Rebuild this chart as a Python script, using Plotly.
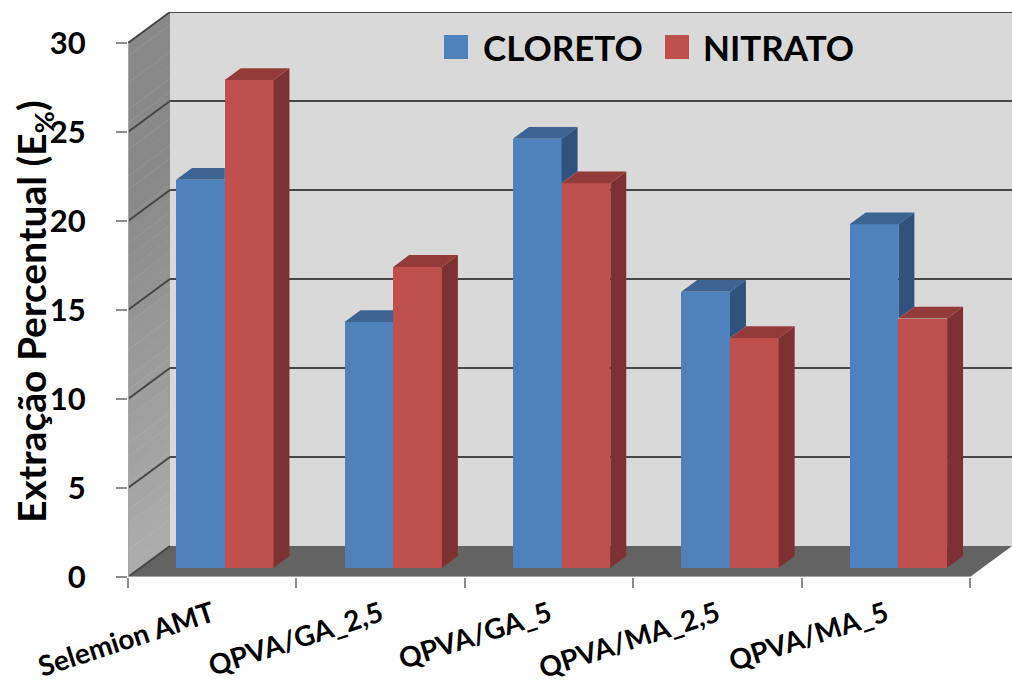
import plotly.graph_objects as go

# ---- data -------------------------------------------------------------
categories = ["Selemion AMT", "QPVA/GA_2,5", "QPVA/GA_5", "QPVA/MA_2,5", "QPVA/MA_5"]
cloreto = [21.8, 13.8, 24.1, 15.5, 19.3]
nitrato = [27.4, 16.9, 21.6, 12.9, 14.0]
series_names = ["CLORETO", "NITRATO"]
y_ticks = [0, 5, 10, 15, 20, 25, 30]
y_title = "Extração Percentual (E<sub>%</sub>)"

# ---- geometry of the pseudo-3D box ---------------------------------------
W, H = 1012, 683
ML, MR, MT, MB = 128, 0, 12, 106
plot_w = W - ML - MR
plot_h = H - MT - MB
DEPTH_PX_X, DEPTH_PX_Y = 42, 31          # receding offset of the back wall
n = len(categories)
ymax = max(y_ticks)
px_per_cat = (plot_w - DEPTH_PX_X) / n
px_per_unit = (plot_h - DEPTH_PX_Y) / ymax
DX = DEPTH_PX_X / px_per_cat             # depth offset in x data units
DY = DEPTH_PX_Y / px_per_unit            # depth offset in y data units

F0 = 0.30                                # depth fraction of the bar front faces
BD = 0.38                                # bar depth (fraction of box depth)
BW = 48.7 / px_per_cat                   # width of one bar
bdx, bdy = BD * DX, BD * DY
base = F0 * DY

FONT = "Lato"
colors = {
    "front": ["#4F81BD", "#C0504D"],
    "top": ["#3D6392", "#933B39"],
    "side": ["#31527D", "#7D3130"],
}


def path(points):
    return "M " + " L ".join(f"{x:.5f},{y:.5f}" for x, y in points) + " Z"


def hexmix(c1, c2, t):
    a = [int(c1[i:i + 2], 16) for i in (1, 3, 5)]
    b = [int(c2[i:i + 2], 16) for i in (1, 3, 5)]
    return "#" + "".join(f"{round(a[k] + (b[k] - a[k]) * t):02x}" for k in range(3))


def px_to_paper(px, py):
    return (px - ML) / plot_w, (H - MB - py) / plot_h


shapes = []

# back wall
shapes.append(dict(type="path", xref="x", yref="y", layer="below",
                   path=path([(DX, DY), (n + DX, DY), (n + DX, ymax + DY), (DX, ymax + DY)]),
                   fillcolor="#D9D9D9", line=dict(width=0)))

# side wall, shaded from light (bottom) to dark (top)
bands = 40
for k in range(bands):
    v0 = ymax * k / bands
    v1 = ymax * (k + 1) / bands
    col = hexmix("#ADADAD", "#898989", min(1.0, (k + 0.5) / bands * 1.4))
    shapes.append(dict(type="path", xref="x", yref="y", layer="below",
                       path=path([(0, v0), (DX, v0 + DY), (DX, v1 + DY + 0.02), (0, v1 + 0.02)]),
                       fillcolor=col, line=dict(width=0)))

# floor
shapes.append(dict(type="path", xref="x", yref="y", layer="below",
                   path=path([(0, 0), (n, 0), (n + DX, DY), (DX, DY)]),
                   fillcolor="#636363", line=dict(width=0)))

# gridlines on both walls
for v in y_ticks:
    shapes.append(dict(type="line", xref="x", yref="y", layer="below",
                       x0=0, y0=v, x1=DX, y1=v + DY,
                       line=dict(color="#474747", width=2)))
    if v > 0:
        shapes.append(dict(type="line", xref="x", yref="y", layer="below",
                           x0=DX, y0=v + DY, x1=n + DX, y1=v + DY,
                           line=dict(color="#474747", width=2)))

# front edges of the box (axis lines)
shapes.append(dict(type="line", xref="x", yref="y", layer="below",
                   x0=0, y0=0, x1=0, y1=ymax, line=dict(color="#A6A6A6", width=2)))
shapes.append(dict(type="line", xref="x", yref="y", layer="below",
                   x0=0, y0=0, x1=n, y1=0, line=dict(color="#A6A6A6", width=2)))

fig = go.Figure()

series = [cloreto, nitrato]
for s, vals in enumerate(series):
    xs = [i + 0.5 + F0 * DX + (s - 0.5) * BW for i in range(n)]
    fig.add_trace(go.Bar(
        x=xs, y=vals, base=[base] * n, width=[BW] * n,
        name=series_names[s], marker=dict(color=colors["front"][s], line=dict(width=0)),
        showlegend=False, hoverinfo="skip",
    ))

# top and side faces of the bars, computed from the values
slope = bdy / bdx
for i in range(n):
    xc = i + 0.5 + F0 * DX
    xl_b, xr_b = xc - BW, xc
    xl_r, xr_r = xc, xc + BW
    bt = cloreto[i] + base
    rt = nitrato[i] + base

    # blue bar: parts hidden behind the red bar are clipped away
    rc = min(max(rt, bt), bt + bdy)
    top_b = [(xl_b, bt), (xr_b, bt), (xr_b, rc),
             (xr_b + (bt + bdy - rc) / slope, bt + bdy), (xl_b + bdx, bt + bdy)]
    shapes.append(dict(type="path", xref="x", yref="y", layer="above",
                       path=path(top_b), fillcolor=colors["top"][0], line=dict(width=0)))
    if bt > rt:
        side_b = [(xr_b, rt), (xr_b + bdx, rt + bdy), (xr_b + bdx, bt + bdy), (xr_b, bt)]
        shapes.append(dict(type="path", xref="x", yref="y", layer="above",
                           path=path(side_b), fillcolor=colors["side"][0], line=dict(width=0)))

    # red bar
    top_r = [(xl_r, rt), (xr_r, rt), (xr_r + bdx, rt + bdy), (xl_r + bdx, rt + bdy)]
    side_r = [(xr_r, base), (xr_r + bdx, base + bdy), (xr_r + bdx, rt + bdy), (xr_r, rt)]
    shapes.append(dict(type="path", xref="x", yref="y", layer="above",
                       path=path(top_r), fillcolor=colors["top"][1], line=dict(width=0)))
    shapes.append(dict(type="path", xref="x", yref="y", layer="above",
                       path=path(side_r), fillcolor=colors["side"][1], line=dict(width=0)))


annotations = []

# legend drawn inside the back wall
legend_items = [(444, 481), (665, 701)]
for s, (sq_x, tx) in enumerate(legend_items):
    x0, y0 = px_to_paper(sq_x, 59)
    x1, y1 = px_to_paper(sq_x + 24, 35)
    shapes.append(dict(type="rect", xref="paper", yref="paper", layer="above",
                       x0=x0, y0=y0, x1=x1, y1=y1,
                       fillcolor=colors["front"][s], line=dict(width=0)))
    ax, ay = px_to_paper(tx, 47.5)
    annotations.append(dict(xref="paper", yref="paper", x=ax, y=ay,
                            xanchor="left", yanchor="middle", showarrow=False,
                            text=series_names[s],
                            font=dict(family=FONT, size=35, color="black", weight="bold")))

# value-axis title, centred on the front edge of the box
tx, ty = px_to_paper(34, 312)
annotations.append(dict(xref="paper", yref="paper", x=tx, y=ty,
                        xanchor="center", yanchor="middle", showarrow=False,
                        textangle=-90, text=y_title,
                        font=dict(family=FONT, size=39, color="black", weight="bold")))

fig.update_layout(
    width=W, height=H,
    margin=dict(l=ML, r=MR, t=MT, b=MB, pad=0, autoexpand=False),
    paper_bgcolor="white", plot_bgcolor="white",
    barmode="overlay", bargap=0,
    shapes=shapes, annotations=annotations,
    showlegend=False,
    xaxis=dict(
        range=[0, n + DX], showgrid=False, zeroline=False, showline=False,
        automargin=False,
        tickmode="array", tickvals=[i + 0.5 for i in range(n)], ticktext=categories,
        ticks="", tickangle=-18, ticklabelstandoff=15,
        tickfont=dict(family=FONT, size=28, color="black", weight="bold"),
        minor=dict(tickmode="array", tickvals=list(range(n + 1)), ticks="outside",
                   ticklen=10, tickwidth=2, tickcolor="#8C8C8C"),
        fixedrange=True,
    ),
    yaxis=dict(
        range=[0, ymax + DY], showgrid=False, zeroline=False, showline=False,
        automargin=False,
        tickmode="array", tickvals=y_ticks, ticks="outside", ticklen=11,
        tickwidth=2, tickcolor="#8C8C8C", ticklabelstandoff=24,
        tickfont=dict(family=FONT, size=31, color="black", weight="bold"),
        fixedrange=True,
    ),
)

fig.write_html("out.html")
